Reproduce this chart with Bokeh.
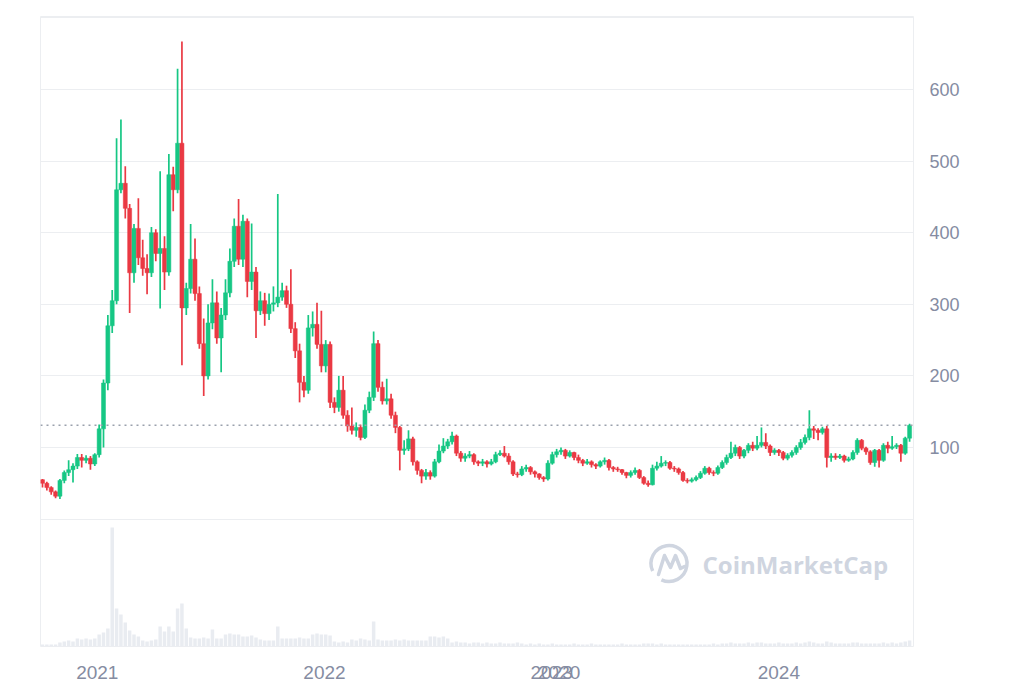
import datetime as dt
from bokeh.plotting import figure
from bokeh.models import (Range1d, FixedTicker, DatetimeTickFormatter, Span, Label,
                          ColumnDataSource, AllLabels)
from bokeh.embed import file_html
from bokeh.resources import INLINE

# ---------------- data (weekly candles) ----------------
WEEK_START = dt.datetime(2020, 10, 5)
N_WEEKS = 200
week_dates = [WEEK_START + dt.timedelta(weeks=k) for k in range(N_WEEKS)]

opens = [
    55, 50, 44, 38, 32, 54, 65, 69, 74, 86,
    82, 85, 77, 90, 126, 190, 270, 305, 460, 469,
    434, 344, 406, 365, 350, 344, 400, 371, 378, 345,
    481, 460, 525, 295, 322, 363, 315, 245, 200, 274,
    302, 253, 285, 316, 360, 409, 363, 416, 332, 345,
    291, 305, 287, 300, 302, 310, 319, 300, 266, 235,
    191, 180, 267, 272, 244, 214, 244, 163, 156, 180,
    145, 130, 124, 128, 114, 152, 170, 245, 184, 165,
    168, 145, 128, 96, 98, 112, 80, 68, 60, 65,
    60, 80, 95, 102, 108, 116, 92, 85, 88, 90,
    80, 78, 80, 77, 80, 90, 92, 88, 80, 63,
    62, 70, 72, 66, 63, 58, 56, 78, 90, 94,
    96, 88, 93, 86, 82, 78, 80, 76, 74, 80,
    82, 72, 70, 69, 65, 61, 65, 68, 58, 50,
    48, 71, 74, 78, 79, 71, 70, 65, 54, 53,
    55, 58, 64, 71, 65, 64, 72, 79, 86, 92,
    100, 88, 96, 103, 99, 103, 107, 102, 93, 96,
    93, 85, 89, 93, 100, 107, 114, 126, 124, 121,
    126, 86, 88, 86, 88, 82, 84, 93, 110, 99,
    94, 79, 96, 82, 103, 99, 101, 103, 92, 113,
]
highs = [
    56, 52, 46, 40, 56, 68, 82, 78, 91, 91,
    89, 88, 92, 132, 195, 285, 320, 532, 558, 493,
    440, 412, 448, 390, 370, 408, 405, 486, 395, 510,
    492, 629, 667, 330, 412, 392, 325, 280, 300, 335,
    318, 295, 335, 378, 420, 447, 425, 420, 413, 352,
    318, 316, 315, 325, 454, 330, 326, 349, 275, 245,
    200, 285, 290, 302, 291, 250, 248, 170, 200, 200,
    152, 156, 135, 132, 160, 178, 262, 250, 192, 196,
    175, 150, 130, 110, 124, 115, 82, 70, 70, 68,
    84, 104, 113, 112, 122, 118, 95, 92, 95, 92,
    82, 84, 82, 84, 94, 96, 102, 92, 82, 66,
    74, 76, 74, 68, 64, 60, 82, 94, 98, 100,
    98, 96, 94, 90, 84, 84, 82, 78, 82, 86,
    84, 74, 73, 70, 66, 68, 72, 70, 60, 54,
    76, 80, 88, 82, 81, 74, 72, 67, 57, 58,
    61, 67, 74, 73, 68, 75, 82, 90, 108, 104,
    102, 98, 106, 108, 116, 128, 120, 104, 99, 98,
    95, 92, 96, 103, 112, 118, 152, 130, 127, 129,
    130, 92, 92, 91, 90, 87, 96, 113, 112, 101,
    96, 98, 98, 106, 108, 116, 106, 105, 115, 133,
]
lows = [
    44, 40, 34, 29, 28, 50, 60, 51, 70, 72,
    78, 69, 74, 86, 100, 180, 260, 300, 455, 420,
    288, 330, 355, 340, 314, 338, 360, 294, 320, 340,
    430, 455, 215, 285, 315, 305, 238, 172, 195, 265,
    245, 205, 278, 310, 352, 355, 352, 310, 320, 253,
    285, 270, 278, 290, 296, 305, 295, 260, 225, 163,
    170, 175, 255, 238, 205, 205, 155, 148, 150, 140,
    122, 118, 115, 110, 112, 148, 165, 178, 160, 160,
    140, 120, 68, 90, 95, 75, 62, 50, 55, 55,
    58, 78, 92, 98, 104, 88, 80, 80, 85, 76,
    74, 74, 72, 75, 78, 88, 86, 76, 60, 58,
    60, 66, 62, 58, 55, 52, 54, 76, 86, 90,
    84, 86, 82, 78, 74, 76, 72, 70, 72, 76,
    68, 66, 66, 62, 57, 58, 62, 56, 48, 45,
    47, 68, 72, 74, 69, 66, 62, 52, 50, 51,
    53, 56, 62, 62, 60, 62, 70, 76, 84, 88,
    84, 85, 92, 95, 96, 100, 98, 88, 90, 88,
    82, 82, 86, 90, 97, 104, 110, 112, 110, 118,
    72, 80, 83, 84, 79, 80, 82, 90, 96, 90,
    76, 73, 72, 80, 92, 97, 98, 80, 90, 108,
]
closes = [
    50, 44, 38, 32, 54, 65, 69, 74, 86, 82,
    85, 77, 90, 126, 190, 270, 305, 460, 469, 434,
    344, 406, 365, 350, 344, 400, 371, 378, 345, 481,
    460, 525, 295, 322, 363, 315, 245, 200, 274, 302,
    253, 285, 316, 360, 409, 363, 416, 332, 345, 291,
    305, 287, 300, 302, 310, 319, 300, 266, 235, 191,
    180, 267, 272, 244, 214, 244, 163, 156, 180, 145,
    130, 124, 128, 114, 152, 170, 245, 184, 165, 168,
    145, 128, 96, 98, 112, 80, 68, 60, 65, 60,
    80, 95, 102, 108, 116, 92, 85, 88, 90, 80,
    78, 80, 77, 80, 90, 92, 88, 80, 63, 62,
    70, 72, 66, 63, 58, 56, 78, 90, 94, 96,
    88, 93, 86, 82, 78, 80, 76, 74, 80, 82,
    72, 70, 69, 65, 61, 65, 68, 58, 50, 48,
    71, 74, 78, 79, 71, 70, 65, 54, 53, 55,
    58, 64, 71, 65, 64, 72, 79, 86, 92, 100,
    88, 96, 103, 99, 103, 107, 102, 93, 96, 93,
    85, 89, 93, 100, 107, 114, 126, 124, 121, 126,
    86, 88, 86, 88, 82, 84, 93, 110, 99, 94,
    79, 96, 82, 103, 99, 101, 103, 92, 113, 131,
]
volumes = [  # weekly volume, relative units
    2, 2, 2, 2, 4, 5, 6, 5, 8, 7,
    8, 7, 8, 12, 14, 18, 119, 38, 32, 24,
    16, 12, 10, 6, 5, 6, 7, 20, 15, 20,
    15, 38, 43, 18, 9, 8, 8, 9, 8, 17,
    8, 8, 12, 13, 12, 12, 10, 10, 11, 9,
    7, 6, 6, 6, 20, 8, 8, 8, 8, 9,
    8, 8, 12, 13, 12, 12, 11, 5, 4, 5,
    4, 7, 6, 8, 7, 6, 25, 7, 6, 6,
    6, 7, 6, 7, 6, 6, 6, 6, 6, 10,
    10, 9, 10, 8, 4, 5, 4, 4, 3, 4,
    4, 3, 4, 3, 3, 4, 3, 3, 3, 4,
    3, 2, 3, 2, 3, 2, 2, 3, 2, 2,
    2, 2, 3, 2, 2, 2, 3, 2, 2, 2,
    2, 2, 2, 3, 2, 2, 2, 2, 3, 3,
    3, 2, 3, 2, 2, 2, 2, 2, 2, 2,
    2, 2, 2, 2, 3, 2, 3, 3, 4, 3,
    3, 3, 4, 3, 4, 4, 3, 3, 3, 4,
    3, 3, 3, 4, 3, 4, 5, 4, 3, 3,
    5, 4, 3, 3, 3, 3, 4, 4, 3, 3,
    3, 3, 3, 4, 3, 4, 3, 4, 5, 6,
]

year_labels = ["2021", "2022", "2023", "2024"]
extra_year_label = "2020"          # stray label drawn over "2023" in the picture
price_ticks = [100, 200, 300, 400, 500, 600]
grid_ticks = [0, 100, 200, 300, 400, 500, 600, 700]
last_price = 131
brand = "CoinMarketCap"

# ---------------- style ----------------
GREEN = "#16c784"
RED = "#ea3943"
VOL = "#e9ecf1"
GRID = "#eceef1"
LABEL = "#858ca2"
WATERMARK = "#cfd5e0"
FONT = "Liberation Sans"

FRAME_L, FRAME_T = 40, 16
FRAME_W, FRAME_H = 873, 630
X0_W, X1_W = -0.46, 199.9          # x range in weeks from WEEK_START
Y0, Y1 = -178, 702                 # price range (volume lives below 0)
MS_WEEK = 7 * 24 * 3600 * 1000


def to_ms(d):
    return int(round((d - dt.datetime(1970, 1, 1)).total_seconds() * 1000.0))


def px_x(px):  # page-pixel -> data x (for decoration only)
    w = X0_W + (px - FRAME_L) * (X1_W - X0_W) / FRAME_W
    return WEEK_START + dt.timedelta(weeks=w)


def px_y(py):  # page-pixel -> data y (for decoration only)
    return Y1 - (py - FRAME_T) * (Y1 - Y0) / FRAME_H


colors = [GREEN if c >= o else RED for o, c in zip(opens, closes)]
src = ColumnDataSource(dict(
    date=week_dates, open=opens, high=highs, low=lows, close=closes,
    top=[max(o, c) for o, c in zip(opens, closes)],
    bottom=[min(o, c) for o, c in zip(opens, closes)],
    color=colors, volume=volumes,
))

p = figure(
    frame_width=FRAME_W, frame_height=FRAME_H,
    x_axis_type="datetime", y_axis_location="right",
    x_range=Range1d(WEEK_START + dt.timedelta(weeks=X0_W), WEEK_START + dt.timedelta(weeks=X1_W)),
    y_range=Range1d(Y0, Y1),
    output_backend="svg", toolbar_location=None, tools="",
    min_border_left=FRAME_L, min_border_top=FRAME_T, min_border_right=95, min_border_bottom=36,
    background_fill_color="white", border_fill_color="white",
)
p.outline_line_color = GRID
p.outline_line_width = 1

vol_top = max(volumes) * FRAME_H / 119.0
p.extra_y_ranges = {"vol": Range1d(0, vol_top)}

# volume bars
p.vbar(x="date", top="volume", bottom=0, width=0.8 * MS_WEEK, source=src,
       fill_color=VOL, line_color=None, y_range_name="vol")

# candles
p.segment(x0="date", y0="low", x1="date", y1="high", source=src,
          line_color="color", line_width=1.7)
p.vbar(x="date", top="top", bottom="bottom", width=0.92 * MS_WEEK, source=src,
       fill_color="color", line_color="color", line_width=0.5)

# current price dotted line
p.add_layout(Span(location=last_price, dimension="width", line_color="#9aa1ad",
                  line_width=1.5, line_dash="2 4"))

# grid
p.xgrid.visible = False
p.ygrid.ticker = FixedTicker(ticks=grid_ticks)
p.ygrid.grid_line_color = GRID
p.ygrid.grid_line_width = 1

# y axis (right)
p.yaxis.ticker = FixedTicker(ticks=price_ticks)
p.yaxis.axis_line_color = None
p.yaxis.major_tick_line_color = None
p.yaxis.minor_tick_line_color = None
p.yaxis.major_label_standoff = 10
p.yaxis.major_label_text_font = FONT
p.yaxis.major_label_text_font_size = "18px"
p.yaxis.major_label_text_color = LABEL

# x axis (bottom): yearly ticks, plus the stray "2020" just right of "2023"
year_ms = [to_ms(dt.datetime(int(y), 1, 1)) for y in year_labels]
stray_ms = to_ms(dt.datetime(int(year_labels[2]), 1, 13))
p.xaxis.ticker = FixedTicker(ticks=year_ms + [stray_ms])
p.xaxis.formatter = DatetimeTickFormatter(years="%Y", months="%Y", days="%Y", hours="%Y")
p.xaxis.major_label_overrides = {stray_ms: extra_year_label}
p.xaxis.major_label_policy = AllLabels()
p.xaxis.axis_line_color = None
p.xaxis.major_tick_line_color = None
p.xaxis.minor_tick_line_color = None
p.xaxis.major_label_standoff = 13
p.xaxis.major_label_text_font = FONT
p.xaxis.major_label_text_font_size = "19px"
p.xaxis.major_label_text_color = LABEL

# watermark
p.add_layout(Label(x=to_ms(px_x(702)), y=px_y(564), text=brand, text_align="left",
                   text_baseline="middle", text_font="Open Sans",
                   text_font_size="24px", text_color=WATERMARK, text_font_style="bold"))
p.arc(x=[px_x(668.5)], y=[px_y(563)], radius=18, radius_units="screen",
      start_angle=245, end_angle=205, start_angle_units="deg", end_angle_units="deg",
      direction="anticlock", line_color=WATERMARK, line_width=3.5)
m_px = [(658, 574), (664, 555), (670, 567), (675, 555), (680, 568), (684, 566)]
p.line(x=[px_x(a) for a, b in m_px], y=[px_y(b) for a, b in m_px],
       line_color=WATERMARK, line_width=3.5, line_join="round", line_cap="round")

open("out.html", "w").write(file_html(p, INLINE, title="Price chart"))
